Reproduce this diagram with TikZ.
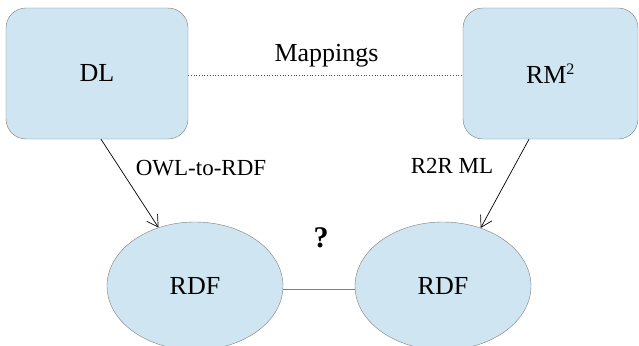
\documentclass[tikz,border=0pt]{standalone}
\usepackage{fontspec}
\setmainfont{Liberation Serif}
\usetikzlibrary{shapes.geometric,arrows.meta}
\definecolor{boxfill}{HTML}{CFE5F2}
\definecolor{boxline}{HTML}{7F7F7F}
\begin{document}
\begin{tikzpicture}[x=1pt,y=-1pt,
  rbox/.style={draw=boxline,fill=boxfill,rounded corners=20pt,minimum width=182pt,minimum height=131pt,inner sep=0pt,font=\fontsize{26}{30}\selectfont},
  ell/.style={ellipse,draw=boxline,fill=boxfill,minimum width=176pt,minimum height=128pt,inner sep=0pt,font=\fontsize{26}{30}\selectfont},
  lbl/.style={font=\fontsize{23}{27}\selectfont,inner sep=0pt,anchor=base},
  arr/.style={-{Straight Barb[length=11pt,width=13pt]},line width=0.7pt}]
\useasboundingbox (0,0) rectangle (639,345);
\node[rbox] (dl) at (97,73.5) {DL};
\node[rbox,minimum width=175pt] (rm) at (550.5,73.5) {RM\textsuperscript{\fontsize{16}{18}\selectfont 2}};
\node[ell] (r1) at (195,286) {RDF};
\node[ell] (r2) at (443,286) {RDF};
\draw[dotted,black!70,line width=0.7pt] ([yshift=-1.5pt]dl.east) -- ([yshift=-1.5pt]rm.west);
\node[lbl,font=\fontsize{26}{30}\selectfont] (map) at (326.5,62) {Mappings};
\draw[arr] ([xshift=4pt]dl.south) -- (r1.{122.5});
\draw[arr] ([xshift=-21.5pt]rm.south) -- (r2.{57.5});
\node[lbl] (owl) at (201,175) {OWL-to-RDF};
\node[lbl] (r2r) at (452,173) {R2R ML};
\draw[boxline,line width=1pt] ([yshift=-3pt]r1.east) -- ([yshift=-3pt]r2.west);
\node[font=\bfseries\fontsize{30}{34}\selectfont,anchor=base,inner sep=0pt] (q) at (321,247) {?};
\end{tikzpicture}
\end{document}
